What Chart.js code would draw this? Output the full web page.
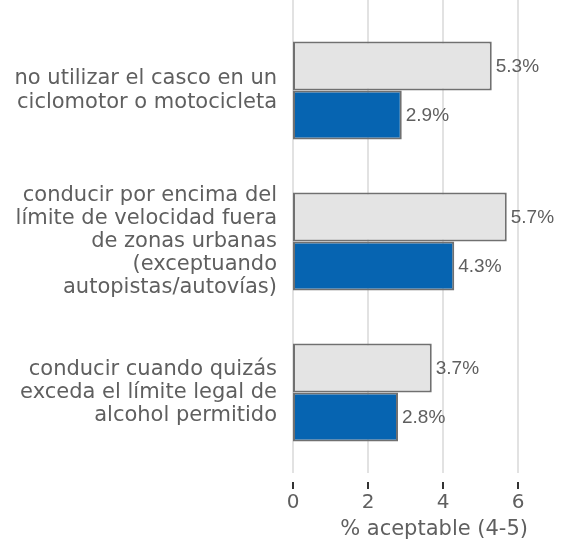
<!DOCTYPE html>
<html>
<head>
<meta charset="utf-8">
<script src="https://cdn.jsdelivr.net/npm/chart.js@4/dist/chart.umd.min.js"></script>
<style>
  body { margin: 0; background: #fff; }
</style>
</head>
<body>
<canvas id="chart" width="564" height="544"></canvas>
<script>
const categories = [
    ['no utilizar el casco en un', 'ciclomotor o motocicleta'],
    ['conducir por encima del', 'límite de velocidad fuera', 'de zonas urbanas', '(exceptuando', 'autopistas/autovías)'],
    ['conducir cuando quizás', 'exceda el límite legal de', 'alcohol permitido']
];
const seriesA = [5.3, 5.7, 3.7];
const seriesB = [2.9, 4.3, 2.8];
const xTicks = [0, 2, 4, 6];
const axisTitle = '% aceptable (4-5)';

const textGrey = '#5f5f5f';

// light gridlines running to the top, plus dark tick marks below them
const gridPlugin = {
    id: 'grid',
    beforeDatasetsDraw: (chart) => {
        const ctx = chart.ctx;
        const x = chart.scales.x;
        const bottom = chart.chartArea.bottom;
        ctx.save();
        xTicks.forEach((v) => {
            const px = x.getPixelForValue(v);
            ctx.strokeStyle = '#e2e2e2';
            ctx.lineWidth = 2;
            ctx.beginPath();
            ctx.moveTo(px, 0);
            ctx.lineTo(px, bottom + 5);
            ctx.stroke();
            ctx.strokeStyle = '#333';
            ctx.beginPath();
            ctx.moveTo(px, bottom + 14);
            ctx.lineTo(px, bottom + 21);
            ctx.stroke();
        });
        ctx.restore();
    }
};

const labelPlugin = {
    id: 'valueLabels',
    afterDatasetsDraw: (chart) => {
        const ctx = chart.ctx;
        ctx.save();
        ctx.font = '19px "Liberation Sans", Arial, sans-serif';
        ctx.fillStyle = textGrey;
        ctx.textAlign = 'left';
        ctx.textBaseline = 'middle';
        chart.data.datasets.forEach((ds, i) => {
            chart.getDatasetMeta(i).data.forEach((bar, j) => {
                ctx.fillText(ds.data[j].toFixed(1) + '%', bar.x + 4, bar.y + 1);
            });
        });
        // axis title, set a little right of the plot's centre as in the original
        ctx.font = '21px "DejaVu Sans", sans-serif';
        ctx.textAlign = 'right';
        ctx.textBaseline = 'middle';
        ctx.fillText(axisTitle, chart.chartArea.right + 10, chart.height - 14);
        ctx.restore();
    }
};

const ctx = document.getElementById('chart').getContext('2d');
const chart = new Chart(ctx, {
    type: 'bar',
    data: {
        labels: categories,
        datasets: [{
            label: 'A',
            data: seriesA,
            backgroundColor: '#e4e4e4',
            borderColor: '#707070',
            borderWidth: 2,
            borderSkipped: false
        }, {
            label: 'B',
            data: seriesB,
            backgroundColor: '#0664b1',
            borderColor: '#707070',
            borderWidth: 2,
            borderSkipped: false
        }]
    },
    options: {
        indexAxis: 'y',
        responsive: false,
        animation: false,
        layout: { padding: { top: 15, right: 46, left: 0, bottom: 0 } },
        datasets: { bar: { categoryPercentage: 0.65, barPercentage: 1 } },
        plugins: {
            legend: { display: false },
            tooltip: { enabled: false }
        },
        scales: {
            x: {
                min: 0,
                max: 6,
                afterBuildTicks: (scale) => { scale.ticks = xTicks.map((v) => ({ value: v })); },
                afterFit: (scale) => {
                    scale.height = 76;
                    scale.paddingLeft = 0;
                    scale.paddingRight = 0;
                },
                grid: { display: false, drawTicks: false },
                border: { display: false },
                ticks: {
                    padding: 23,
                    color: textGrey,
                    font: { family: '"DejaVu Sans", sans-serif', size: 20 }
                }
            },
            y: {
                afterFit: (scale) => {
                    scale.width = 293;
                    scale.paddingTop = 0;
                    scale.paddingBottom = 0;
                },
                grid: { display: false, drawTicks: false },
                border: { display: false },
                ticks: {
                    padding: 16,
                    color: textGrey,
                    font: { family: '"DejaVu Sans", sans-serif', size: 21, lineHeight: 1.1 }
                }
            }
        }
    },
    plugins: [gridPlugin, labelPlugin]
});
</script>
</body>
</html>
